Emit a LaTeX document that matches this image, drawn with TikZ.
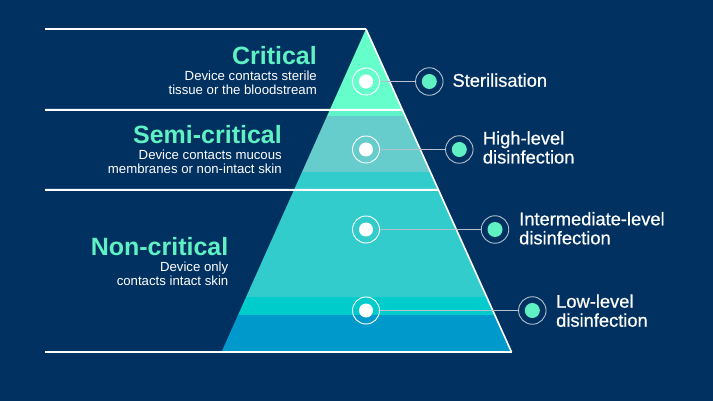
\documentclass[tikz,border=0pt]{standalone}
\usepackage{fontspec}
\setmainfont{Liberation Sans}
\newfontfamily\labfont{Liberation Sans}[FakeBold=0.6]
\usetikzlibrary{calc}
\definecolor{navy}{RGB}{0,49,96}
\definecolor{mintband}{RGB}{102,255,204}
\definecolor{mintstrip}{RGB}{96,242,200}
\definecolor{minttext}{RGB}{95,240,195}
\definecolor{semiband}{RGB}{102,204,204}
\definecolor{tealband}{RGB}{51,204,204}
\definecolor{cyanband}{RGB}{0,204,204}
\definecolor{blueband}{RGB}{0,153,204}
\definecolor{connc}{RGB}{180,192,206}
\begin{document}
\begin{tikzpicture}[x=1pt,y=-1pt,
  title/.style={font=\bfseries\fontsize{25}{27}\selectfont, text=minttext, inner sep=0, anchor=base east},
  sub/.style={font=\fontsize{13.2}{14}\selectfont, text=white, inner sep=0, anchor=base east, align=right},
  lab/.style={font=\labfont\fontsize{18.3}{19}\selectfont, text=white, inner sep=0, anchor=base west, align=left},
  ring/.style={circle, draw=white, line width=0.9pt, minimum size=27pt, inner sep=0},
  ringr/.style={circle, draw=connc, line width=0.9pt, minimum size=27.5pt, inner sep=0},
  wdot/.style={circle, fill=white, minimum size=14pt, inner sep=0},
  mdot/.style={circle, fill=minttext, minimum size=15pt, inner sep=0},
  connline/.style={draw=connc, line width=0.9pt},
  rule/.style={draw=white, line width=2pt},
  edge/.style={draw=white, line width=1.6pt}
]
\useasboundingbox (0,0) rectangle (713,401);
\fill[navy] (0,0) rectangle (713,401);

\coordinate (A) at (366,29);
\coordinate (BL) at (221.5,352);
\coordinate (BR) at (511.5,352);

\begin{scope}
  \clip (A) -- (BL) -- (BR) -- cycle;
  \fill[mintband]  (200,20)  rectangle (530,110);
  \fill[mintstrip] (200,110) rectangle (530,116);
  \fill[semiband]  (200,116) rectangle (530,172);
  \fill[tealband]  (200,172) rectangle (530,297);
  \fill[cyanband]  (200,297) rectangle (530,315);
  \fill[blueband]  (200,315) rectangle (530,360);
\end{scope}

\draw[edge] (A) -- (BR);

\coordinate (L0) at (45,29);
\coordinate (L1) at (45,110);
\coordinate (L2) at (45,190);
\coordinate (L3) at (45,352);
\coordinate (E1) at ($(A)!{81/323}!(BR)$);
\coordinate (E2) at ($(A)!{161/323}!(BR)$);
\draw[rule] (L0) -- (A);
\draw[rule] (L1) -- (E1);
\draw[rule] (L2) -- (E2);
\draw[rule] (L3) -- (BR);

% markers
\node[ring] (r1) at (366,81.5) {};
\node[ring] (r2) at (366,149.5) {};
\node[ring] (r3) at (366,229.5) {};
\node[ring] (r4) at (366,310.5) {};
\node[wdot] (w1) at (r1) {};
\node[wdot] (w2) at (r2) {};
\node[wdot] (w3) at (r3) {};
\node[wdot] (w4) at (r4) {};

\node[ringr] (R1) at (429.3,81.5) {};
\node[ringr] (R2) at (459.3,149.5) {};
\node[ringr] (R3) at (495,229.5) {};
\node[ringr] (R4) at (532.3,310.5) {};
\node[mdot] (m1) at (R1) {};
\node[mdot] (m2) at (R2) {};
\node[mdot] (m3) at (R3) {};
\node[mdot] (m4) at (R4) {};

\draw[connline] (r1) -- (R1);
\draw[connline] (r2) -- (R2);
\draw[connline] (r3) -- (R3);
\draw[connline] (r4) -- (R4);

% left texts (multi-line nodes: base = last line)
\node[title] (t1) at (317,65) {Critical};
\node[sub] (s1) at (317,95) {Device contacts sterile\\tissue or the bloodstream};
\node[title] (t2) at (282,143.3) {Semi-critical};
\node[sub] (s2) at (282,173.3) {Device contacts mucous\\membranes or non-intact skin};
\node[title] (t3) at (228.5,255) {Non-critical};
\node[sub] (s3) at (228.5,285) {Device only\\contacts intact skin};

% right labels
\node[lab] (l1) at (452.3,86.7) {Sterilisation};
\node[lab] (l2) at (482.7,163.5) {High-level\\disinfection};
\node[lab] (l3) at (519,244.3) {Intermediate-level\\disinfection};
\node[lab] (l4) at (556,326.7) {Low-level\\disinfection};
\end{tikzpicture}
\end{document}
